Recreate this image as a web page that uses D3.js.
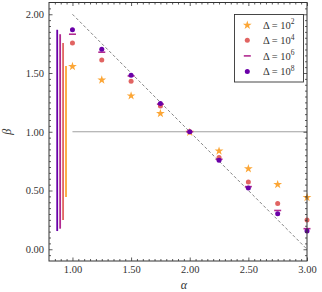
<!DOCTYPE html>
<html>
<head>
<meta charset="utf-8">
<script src="https://cdn.jsdelivr.net/npm/d3@7"></script>
<style>
  body { margin: 0; background: #fff; }
  text { font-family: "Liberation Serif", "Times New Roman", serif; }
</style>
</head>
<body>
<svg id="chart" width="322" height="292"></svg>
<script>
let alphas = [1.0, 1.25, 1.5, 1.75, 2.0, 2.25, 2.5, 2.75, 3.0]
let beta1e2 = [1.56, 1.445, 1.31, 1.16, 1.0, 0.84, 0.69, 0.555, 0.445]
let beta1e4 = [1.755, 1.61, 1.43, 1.22, 1.0, 0.78, 0.573, 0.39, 0.25]
let beta1e6 = [1.83, 1.677, 1.475, 1.235, 1.0, 0.766, 0.533, 0.33, 0.175]
let beta1e8 = [1.868, 1.702, 1.48, 1.24, 1.0, 0.757, 0.522, 0.303, 0.155]
let rangeX = [0.87, 0.895, 0.92, 0.945]
let exps = ['2', '4', '6', '8']
let xTicks = [1.0, 1.5, 2.0, 2.5, 3.0]
let yTicks = [0.0, 0.5, 1.0, 1.5, 2.0]

function main() {
    let svg = d3.select('#chart'),
        margin = {top: 2.5, right: 15, bottom: 31, left: 49},
        width = 322 - margin.left - margin.right,
        height = 292 - margin.top - margin.bottom

    let x = d3.scaleLinear().domain([0.8, 3.0]).range([margin.left, margin.left + width])
    let y = d3.scaleLinear().domain([-0.1, 2.1]).range([margin.top + height, margin.top])

    let series = [
        {name: '2', values: beta1e2, color: '#fca636', marker: 'star'},
        {name: '4', values: beta1e4, color: '#e16462', marker: 'circle'},
        {name: '6', values: beta1e6, color: '#b12a90', marker: 'dash'},
        {name: '8', values: beta1e8, color: '#6a00a8', marker: 'circle'}
    ]

    // reference lines
    svg.append('line')
        .attr('x1', x(1)).attr('x2', x(3))
        .attr('y1', y(1)).attr('y2', y(1))
        .attr('stroke', '#a0a0a0').attr('stroke-width', 1)
    svg.append('path')
        .attr('d', d3.line()([[x(1), y(2)], [x(3), y(0)]]))
        .attr('stroke', '#777').attr('stroke-width', 0.9)
        .attr('stroke-dasharray', '3,2.2').attr('fill', 'none')

    // range bars on the left
    series.slice().reverse().forEach((s, i) => {
        let ext = d3.extent(s.values)
        svg.append('line')
            .attr('x1', x(rangeX[i])).attr('x2', x(rangeX[i]))
            .attr('y1', y(ext[0])).attr('y2', y(ext[1]))
            .attr('stroke', s.color).attr('stroke-width', 1.8)
    })

    function drawMarker(g, type, color, cx, cy) {
        if (type === 'star') {
            g.append('path')
                .attr('d', d3.symbol().type(d3.symbolStar).size(24)())
                .attr('transform', 'translate(' + cx + ',' + (cy + 0.5) + ')')
                .attr('fill', color)
        } else if (type === 'circle') {
            g.append('circle').attr('cx', cx).attr('cy', cy).attr('r', 2.5).attr('fill', color)
        } else {
            g.append('line')
                .attr('x1', cx - 3.5).attr('x2', cx + 3.5)
                .attr('y1', cy).attr('y2', cy)
                .attr('stroke', color).attr('stroke-width', 1.6)
        }
    }

    let pts = svg.append('g')
    series.forEach(s => {
        s.values.forEach((v, i) => drawMarker(pts, s.marker, s.color, x(alphas[i]), y(v)))
    })

    // frame
    svg.append('rect')
        .attr('x', margin.left).attr('y', margin.top)
        .attr('width', width).attr('height', height)
        .attr('fill', 'none').attr('stroke', '#333').attr('stroke-width', 1)

    let fmt = d3.format('.2f')
    let xMinor = d3.range(0.85, 3.001, 0.05).filter(v => xTicks.every(t => Math.abs(t - v) > 1e-6))
    let yMinor = d3.range(-0.05, 2.1, 0.05).filter(v => yTicks.every(t => Math.abs(t - v) > 1e-6))

    // bottom / top ticks
    svg.append('g')
        .attr('transform', 'translate(0,' + (margin.top + height) + ')')
        .call(d3.axisBottom(x).tickValues(xTicks).tickSizeInner(-3.5).tickSizeOuter(0).tickPadding(5).tickFormat(fmt))
    svg.append('g')
        .attr('transform', 'translate(0,' + (margin.top + height) + ')')
        .call(d3.axisBottom(x).tickValues(xMinor).tickSizeInner(-2).tickSizeOuter(0).tickFormat(''))
    svg.append('g')
        .attr('transform', 'translate(0,' + margin.top + ')')
        .call(d3.axisTop(x).tickValues(xTicks).tickSizeInner(-3.5).tickSizeOuter(0).tickFormat(''))
    svg.append('g')
        .attr('transform', 'translate(0,' + margin.top + ')')
        .call(d3.axisTop(x).tickValues(xMinor).tickSizeInner(-2).tickSizeOuter(0).tickFormat(''))

    // left / right ticks
    svg.append('g')
        .attr('transform', 'translate(' + margin.left + ',0)')
        .call(d3.axisLeft(y).tickValues(yTicks).tickSizeInner(-3.5).tickSizeOuter(0).tickPadding(5).tickFormat(fmt))
    svg.append('g')
        .attr('transform', 'translate(' + margin.left + ',0)')
        .call(d3.axisLeft(y).tickValues(yMinor).tickSizeInner(-2).tickSizeOuter(0).tickFormat(''))
    svg.append('g')
        .attr('transform', 'translate(' + (margin.left + width) + ',0)')
        .call(d3.axisRight(y).tickValues(yTicks).tickSizeInner(-3.5).tickSizeOuter(0).tickFormat(''))
    svg.append('g')
        .attr('transform', 'translate(' + (margin.left + width) + ',0)')
        .call(d3.axisRight(y).tickValues(yMinor).tickSizeInner(-2).tickSizeOuter(0).tickFormat(''))

    svg.selectAll('.domain').remove()
    svg.selectAll('.tick line').attr('stroke', '#333').attr('stroke-width', 0.8)
    svg.selectAll('.tick text')
        .attr('font-size', 10.5).attr('fill', '#333')

    // axis labels
    svg.append('text')
        .attr('x', x(1.95)).attr('y', 289)
        .attr('text-anchor', 'middle')
        .attr('font-style', 'italic').attr('font-size', 12).attr('fill', '#333')
        .text('α')
    svg.append('text')
        .attr('transform', 'translate(11,' + y(1.0) + ') rotate(-90)')
        .attr('text-anchor', 'middle')
        .attr('font-style', 'italic').attr('font-size', 12).attr('fill', '#333')
        .text('β')

    // legend
    let leg = svg.append('g')
    leg.append('rect')
        .attr('x', 234.5).attr('y', 14.5).attr('width', 69).attr('height', 67.5)
        .attr('fill', '#fff').attr('stroke', '#333').attr('stroke-width', 0.9)
    series.forEach((s, i) => {
        let ly = 24.7 + i * 15.6
        drawMarker(leg, s.marker, s.color, 247.3, ly)
        let t = leg.append('text')
            .attr('x', 263).attr('y', ly + 3.8)
            .attr('font-size', 10.5).attr('fill', '#333')
        t.append('tspan').text('Δ = 10')
        t.append('tspan').attr('dy', -4.5).attr('font-size', 7.5).text(exps[i])
    })
}

main()
</script>
</body>
</html>
